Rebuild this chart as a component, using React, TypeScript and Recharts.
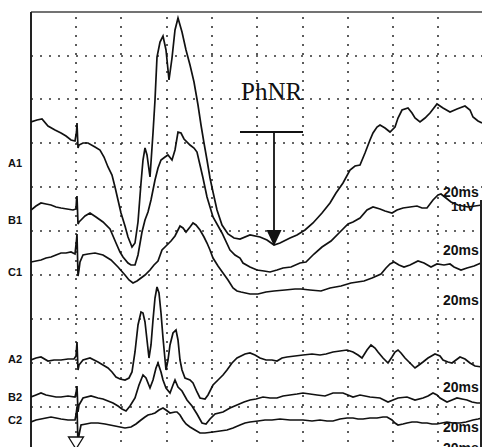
import React from "react";
import { LineChart, Line, XAxis, YAxis, CartesianGrid, ReferenceLine, ReferenceDot } from "recharts";

// time (t, sample units relative to stimulus) and amplitude (v) readings per trace
const traceA1: [number, number][] = [
  [-45, 329], [-39, 331], [-34, 332], [-28, 325], [-21, 321], [-15, 318], [-10, 315], [-5, 311], [-1, 310],
  [0.5, 319], [1, 328], [2, 303], [3, 306], [7, 308], [12, 308], [19, 304], [24, 301], [28, 294], [32, 284],
  [36, 276], [39, 264], [42, 251], [45, 238], [49, 225], [52, 214], [56, 204], [59, 208], [62, 229], [65, 268],
  [67, 291], [69, 303], [71, 296], [74, 274], [77, 318], [79, 351], [81, 394], [84, 409], [87, 415], [90, 401],
  [93, 371], [96, 393], [99, 421], [102, 433], [106, 419], [110, 401], [114, 386], [118, 369], [122, 346],
  [125, 326], [128, 308], [131, 291], [134, 273], [137, 259], [141, 241], [146, 226], [152, 217], [158, 213],
  [164, 212], [174, 216], [184, 214], [191, 211], [198, 206], [204, 208], [214, 213], [221, 216], [229, 221],
  [237, 228], [246, 238], [254, 248], [260, 258], [267, 268], [274, 281], [279, 285], [284, 286], [289, 298],
  [294, 311], [297, 318], [301, 324], [304, 326], [309, 323], [314, 319], [319, 324], [322, 333], [326, 341],
  [332, 343], [336, 338], [339, 333], [344, 329], [349, 333], [354, 338], [361, 347], [367, 343], [374, 339],
  [381, 342], [389, 345], [394, 341], [397, 334], [402, 330], [406, 328],
];

const traceB1: [number, number][] = [
  [-45, 241], [-40, 245], [-35, 248], [-30, 247], [-25, 246], [-20, 244], [-15, 243], [-9, 242], [-3, 241],
  [0, 242], [0.5, 251], [1, 255], [2, 227], [3, 229], [5, 231], [9, 235], [14, 238], [20, 234], [27, 229],
  [34, 222], [40, 208], [44, 199], [47, 194], [52, 188], [55, 186], [59, 186], [62, 196], [66, 219], [69, 231],
  [72, 239], [75, 251], [79, 271], [82, 283], [85, 291], [89, 294], [92, 296], [96, 291], [99, 301], [102, 319],
  [105, 318], [108, 312], [114, 306], [118, 303], [121, 299], [124, 286], [127, 273], [131, 254], [137, 234],
  [146, 218], [154, 201], [159, 196], [164, 193], [167, 188], [174, 184], [181, 181], [188, 180], [194, 179],
  [201, 181], [207, 183], [215, 184], [224, 188], [230, 189], [234, 193], [238, 197], [246, 204], [255, 210],
  [264, 219], [272, 227], [277, 229], [284, 233], [291, 241], [297, 244], [304, 242], [309, 240], [316, 238],
  [321, 241], [327, 243], [334, 244], [341, 245], [346, 243], [351, 243], [357, 251], [362, 256], [365, 257],
  [370, 253], [375, 249], [382, 246], [387, 245], [392, 244], [399, 245], [406, 246],
];

const traceC1: [number, number][] = [
  [-45, 189], [-40, 190], [-35, 191], [-30, 193], [-25, 194], [-20, 196], [-15, 198], [-10, 198], [-5, 199],
  [-1, 197], [0.5, 211], [1, 217], [2, 175], [3, 181], [4, 189], [7, 196], [12, 197], [19, 198], [27, 196],
  [35, 191], [42, 184], [49, 176], [53, 171], [57, 168], [61, 170], [65, 173], [69, 176], [74, 181], [78, 186],
  [82, 190], [86, 201], [90, 205], [95, 210], [99, 215], [102, 221], [104, 225], [107, 223], [110, 219],
  [114, 224], [117, 228], [120, 226], [124, 221], [128, 214], [131, 208], [134, 201], [137, 193], [142, 185],
  [147, 178], [152, 171], [157, 163], [161, 160], [165, 159], [174, 157], [182, 157], [190, 159], [198, 160],
  [209, 161], [219, 162], [225, 162], [234, 161], [245, 160], [254, 163], [265, 165], [275, 168], [288, 170],
  [296, 173], [305, 177], [310, 183], [314, 187], [318, 189], [323, 186], [328, 184], [334, 186], [342, 190],
  [348, 188], [355, 184], [361, 187], [368, 186], [374, 187], [378, 184], [385, 181], [391, 183], [398, 185],
  [405, 188],
];

const traceA2: [number, number][] = [
  [-45, 91], [-40, 93], [-35, 94], [-28, 90], [-22, 91], [-15, 91], [-8, 92], [-2, 92], [0, 95], [1, 109],
  [2, 81], [3, 86], [7, 91], [14, 93], [22, 89], [27, 86], [32, 83], [36, 79], [40, 74], [44, 72], [49, 71],
  [53, 73], [56, 79], [59, 99], [62, 126], [65, 139], [67, 138], [69, 129], [71, 111], [73, 93], [75, 106],
  [77, 131], [79, 153], [81, 164], [83, 158], [85, 138], [87, 113], [90, 81], [92, 91], [94, 106], [97, 118],
  [100, 121], [102, 111], [104, 91], [106, 81], [109, 73], [114, 71], [117, 68], [121, 59], [124, 53],
  [129, 52], [132, 56], [137, 66], [142, 71], [147, 76], [151, 81], [156, 88], [161, 93], [165, 95], [169, 97],
  [174, 98], [179, 96], [184, 93], [190, 91], [196, 91], [201, 90], [206, 93], [211, 94], [219, 95], [227, 96],
  [236, 97], [244, 96], [250, 97], [257, 99], [264, 100], [271, 101], [277, 99], [282, 96], [286, 93],
  [291, 101], [295, 106], [299, 103], [302, 99], [307, 93], [312, 88], [316, 94], [319, 99], [322, 101],
  [325, 98], [329, 93], [334, 88], [339, 83], [343, 86], [347, 89], [352, 93], [359, 97], [364, 95], [367, 91],
  [372, 89], [376, 88], [380, 91], [384, 94], [389, 92], [394, 88], [399, 85], [406, 84],
];

const traceB2: [number, number][] = [
  [-45, 54], [-40, 56], [-35, 58], [-30, 56], [-25, 55], [-20, 54], [-15, 54], [-8, 55], [-1, 54], [0, 58],
  [1, 65], [2, 39], [3, 46], [7, 53], [15, 55], [22, 53], [27, 52], [32, 50], [37, 48], [42, 45], [46, 42],
  [50, 40], [54, 45], [59, 53], [63, 66], [67, 76], [70, 73], [74, 63], [77, 71], [80, 83], [82, 88], [85, 79],
  [87, 71], [90, 63], [94, 58], [97, 66], [99, 71], [102, 64], [106, 60], [111, 51], [116, 45], [121, 37],
  [126, 28], [130, 27], [134, 32], [139, 37], [147, 39], [154, 43], [161, 46], [168, 49], [174, 51], [180, 52],
  [187, 54], [194, 53], [201, 53], [207, 55], [214, 56], [221, 57], [227, 58], [234, 57], [241, 56], [249, 55],
  [257, 58], [267, 58], [277, 54], [284, 56], [294, 54], [304, 53], [312, 49], [317, 51], [322, 53], [331, 54],
  [339, 51], [347, 53], [352, 55], [357, 58], [361, 56], [364, 53], [371, 49], [376, 51], [381, 53], [386, 52],
  [391, 51], [396, 49], [401, 48], [406, 48],
];

const traceC2: [number, number][] = [
  [-45, 29], [-40, 31], [-35, 32], [-30, 33], [-25, 34], [-20, 33], [-15, 32], [-8, 31], [-1, 31], [0, 36],
  [1, 44], [2, 6], [3, 16], [5, 26], [10, 27], [15, 28], [22, 28], [29, 27], [34, 26], [39, 25], [44, 24],
  [49, 23], [55, 24], [60, 27], [65, 31], [69, 34], [72, 36], [76, 37], [79, 38], [83, 41], [87, 43], [90, 41],
  [94, 38], [99, 39], [101, 39], [104, 36], [107, 31], [110, 27], [114, 24], [119, 21], [124, 18], [129, 18],
  [137, 19], [144, 20], [151, 21], [157, 23], [164, 26], [169, 28], [174, 29], [182, 30], [189, 31], [196, 31],
  [204, 32], [214, 31], [227, 31], [236, 30], [244, 31], [251, 30], [257, 30], [264, 32], [271, 33], [277, 33],
  [282, 32], [287, 32], [294, 33], [301, 33], [307, 34], [311, 34], [316, 31], [319, 28], [322, 26], [327, 27],
  [331, 28], [336, 29], [341, 29], [346, 28], [351, 28], [356, 27], [361, 27], [366, 28], [371, 29], [377, 28],
  [384, 28], [390, 29], [397, 31], [402, 32], [406, 33],
];

const xMin = -45;
const xMax = 408;
const yMin = 0;
const yMax = 439;
const xGrid = [0, 45, 91, 136, 181, 227, 272, 317, 362, 407];
const yGrid = [44, 88, 132, 176, 220, 264, 308, 352, 395];

const traceLabels = [
  { name: "A1", y: 167 },
  { name: "B1", y: 224 },
  { name: "C1", y: 276 },
  { name: "A2", y: 363 },
  { name: "B2", y: 401 },
  { name: "C2", y: 424 },
];
const scaleLabelYs = [197, 255, 305, 392, 432, 453];

// PhNR annotation in data units
const phnrBar = { t0: 164, t1: 227, v: 319 };
const phnrTip = { t: 198, v: 205 };
const stimulusMark = { t: 0, v: 9 };

const toRows = (arr: [number, number][]) => arr.map(([t, v]) => ({ t, v }));

const series = [traceA1, traceB1, traceC1, traceA2, traceB2, traceC2].map(toRows);

const ArrowHead = (props: any) => {
  const { cx, cy } = props;
  return <polygon points={`${cx},${cy} ${cx - 7.5},${cy - 16} ${cx + 7.5},${cy - 16}`} fill="#111" />;
};

const StimTriangle = (props: any) => {
  const { cx, cy } = props;
  return (
    <polygon
      points={`${cx - 7.5},${cy - 5} ${cx + 7.5},${cy - 5} ${cx},${cy + 7}`}
      fill="#fff"
      stroke="#111"
      strokeWidth={1.3}
    />
  );
};

export default function App() {
  return (
    <div style={{ position: "absolute", left: 0, top: 0, width: 482, height: 447, overflow: "hidden", background: "#fff" }}>
      <LineChart width={484} height={452} margin={{ top: 12, right: 0, bottom: 1, left: 31 }}>
        <XAxis type="number" dataKey="t" domain={[xMin, xMax]} hide allowDataOverflow />
        <YAxis type="number" dataKey="v" domain={[yMin, yMax]} hide allowDataOverflow />
        {xGrid.map((t) => (
          <ReferenceLine key={"gx" + t} x={t} stroke="#333" strokeWidth={1.6} strokeDasharray="2 7" ifOverflow="visible" />
        ))}
        {yGrid.map((v) => (
          <ReferenceLine key={"gy" + v} y={v} stroke="#333" strokeWidth={1.6} strokeDasharray="2 7" ifOverflow="visible" />
        ))}
        <ReferenceLine y={yMax} stroke="#444" strokeWidth={1.4} ifOverflow="visible" />
        <ReferenceLine x={xMin} stroke="#222" strokeWidth={2} ifOverflow="visible" />
        {series.map((d, i) => (
          <Line
            key={i}
            data={d}
            dataKey="v"
            type="linear"
            stroke="#111"
            strokeWidth={1.7}
            dot={false}
            isAnimationActive={false}
          />
        ))}
        <ReferenceLine
          segment={[{ x: phnrBar.t0, y: phnrBar.v }, { x: phnrBar.t1, y: phnrBar.v }]}
          stroke="#111"
          strokeWidth={1.8}
          ifOverflow="visible"
        />
        <ReferenceLine
          segment={[{ x: phnrTip.t, y: phnrBar.v }, { x: phnrTip.t, y: phnrTip.v + 10 }]}
          stroke="#111"
          strokeWidth={1.8}
          ifOverflow="visible"
        />
        <ReferenceDot x={phnrTip.t} y={phnrTip.v} r={0} shape={ArrowHead} ifOverflow="visible" />
        <ReferenceDot x={stimulusMark.t} y={stimulusMark.v} r={0} shape={StimTriangle} ifOverflow="visible" />
      </LineChart>
      <svg width={482} height={447} style={{ position: "absolute", left: 0, top: 0, pointerEvents: "none" }}>
        {traceLabels.map((l) => (
          <text key={l.name} x={8} y={l.y} fontFamily="Liberation Sans, Arial, sans-serif" fontWeight="bold" fontSize={11} fill="#111">
            {l.name}
          </text>
        ))}
        <text x={241} y={99.5} fontFamily="Liberation Serif, Times New Roman, serif" fontSize={25} fill="#111">
          PhNR
        </text>
        {scaleLabelYs.map((y, i) => (
          <text key={i} x={443} y={y} fontFamily="Liberation Sans, Arial, sans-serif" fontWeight="bold" fontSize={14} fill="#111">
            20ms
          </text>
        ))}
        <text x={451} y={211} fontFamily="Liberation Sans, Arial, sans-serif" fontWeight="bold" fontSize={13} fill="#111">
          1uV
        </text>
        <line x1={481} y1={200} x2={481} y2={447} stroke="#222" strokeWidth={2} />
      </svg>
    </div>
  );
}
